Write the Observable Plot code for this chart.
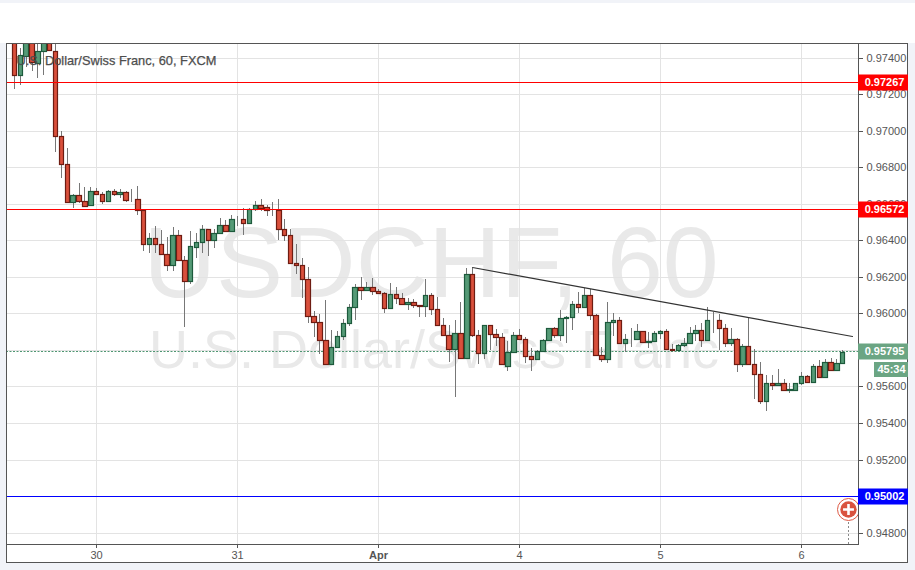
<!DOCTYPE html>
<html>
<head>
<meta charset="utf-8">
<script src="https://cdn.jsdelivr.net/npm/d3@7"></script>
<script src="https://cdn.jsdelivr.net/npm/@observablehq/plot@0.6"></script>
<style>
html,body{margin:0;padding:0;background:#f1f3f8;overflow:hidden;}
#top{position:absolute;left:0;top:3px;width:915px;height:40px;background:#fff;}
#card{position:absolute;left:6px;top:43px;width:902px;height:520px;background:#fff;border:1px solid #555;box-sizing:border-box;}
#chart{position:absolute;left:0;top:0;}
svg{background:transparent!important;}
</style>
</head>
<body>
<div id="top"></div><div id="card"></div><div id="chart"></div>
<script>
// Hourly USD/CHF bars, in units of 0.00001
const opens = [97520,97307,97409,97520,97371,97436,97520,97440,96970,96817,
96608,96646,96614,96592,96668,96652,96614,96672,96652,96667,
96619,96625,96564,96383,96411,96383,96328,96268,96432,96290,
96180,96365,96394,96460,96400,96443,96482,96454,96515,96515,
96498,96570,96592,96581,96564,96564,96460,96432,96279,96268,
96191,95988,95955,95856,95723,95818,95878,95950,96037,96147,
96131,96147,96125,96114,96032,96109,96087,96054,96065,96048,
96043,96103,96026,95939,95884,95807,95895,95758,96218,95884,
95785,95939,95889,95873,95714,95791,95884,95862,95769,95752,
95796,95856,95922,95884,95977,95983,96054,96038,96103,95994,
95774,95752,95955,95966,95840,95862,95860,95906,95846,95851,
95895,95906,95807,95802,95829,95840,95895,95911,95855,95966,
95966,95922,95840,95862,95725,95824,95725,95670,95522,95621,
95610,95621,95582,95582,95621,95659,95626,95714,95652,95736,
95692,95730];
const highs = [97560,97455,97560,97560,97520,97560,97540,97500,96998,96904,
96654,96714,96690,96694,96687,96663,96678,96681,96681,96672,
96681,96698,96564,96443,96478,96456,96416,96471,96456,96312,
96453,96443,96484,96465,96462,96520,96511,96539,96535,96575,
96575,96614,96625,96592,96610,96626,96517,96465,96379,96303,
96257,96012,95995,96072,95908,95902,95972,96054,96160,96202,
96171,96193,96133,96120,96165,96144,96111,96087,96081,96048,
96187,96114,96089,95977,95935,95966,96061,96251,96251,95908,
95939,95939,95917,95895,95851,95900,95917,95873,95813,95802,
95862,95922,95928,96017,95986,96067,96116,96142,96135,95999,
95818,96065,96001,95983,95886,95922,95944,95906,95900,95906,
95911,95913,95831,95835,95868,95928,95939,95950,96038,96008,
95999,95944,95922,95868,95830,95977,95807,95736,95665,95665,
95694,95639,95621,95621,95681,95665,95721,95745,95752,95758,
95749,95802];
const lows = [97230,97252,97349,97330,97288,97308,97444,96886,96743,96608,
96577,96604,96590,96592,96652,96597,96608,96645,96634,96608,
96608,96540,96343,96332,96332,96328,96230,96233,96290,95926,
96162,96305,96330,96314,96359,96443,96454,96449,96480,96431,
96498,96563,96563,96535,96535,96403,96398,96279,96215,96085,
95946,95871,95778,95725,95717,95814,95855,95931,95964,96074,
96131,96101,96114,96003,96027,96050,96054,96019,96030,95981,
95981,95992,95939,95884,95734,95544,95758,95758,95873,95723,
95752,95800,95822,95725,95684,95791,95862,95730,95686,95752,
95791,95856,95867,95847,95836,95909,96005,96038,95965,95771,
95734,95730,95877,95836,95789,95816,95855,95844,95809,95851,
95862,95807,95794,95798,95818,95840,95851,95816,95855,95895,
95798,95818,95822,95681,95708,95725,95529,95506,95465,95579,
95610,95582,95564,95582,95610,95626,95626,95654,95646,95692,
95687,95730];
const closes = [97307,97413,97520,97376,97436,97520,97444,96970,96817,96608,
96646,96614,96590,96668,96652,96614,96672,96652,96667,96619,
96623,96564,96383,96411,96383,96328,96268,96432,96290,96180,
96367,96394,96460,96400,96443,96482,96454,96515,96517,96498,
96570,96592,96577,96564,96566,96460,96432,96279,96268,96191,
95988,95955,95856,95725,95818,95878,95950,96037,96147,96131,
96145,96125,96114,96032,96109,96087,96054,96065,96048,96043,
96103,96026,95939,95884,95807,95895,95758,96218,95884,95785,
95939,95889,95873,95725,95791,95884,95862,95769,95752,95796,
95856,95922,95884,95977,95983,96054,96038,96103,95994,95774,
95752,95955,95966,95840,95862,95860,95906,95846,95851,95895,
95906,95807,95802,95829,95840,95895,95911,95855,95966,95964,
95922,95840,95862,95725,95824,95725,95670,95522,95621,95610,
95621,95582,95584,95621,95659,95626,95714,95654,95736,95692,
95730,95791];

const dayBars = [14,38,62,86,110,134];
const dayLabels = ["30","31","Apr","4","5","6"];
const priceTicks = [0.974,0.972,0.970,0.968,0.966,0.964,0.962,0.960,0.958,0.956,0.954,0.952,0.950,0.948];
const levels = [0.97267,0.96572,0.95002];
const levelColors = ["#ff0000","#ff0000","#0000ff"];
const lastPrice = 0.95795;
const countdown = "45:34";
const trendBars = [77.9,142.7];
const trendPrices = [0.96253,0.95877];
const eventBar = 142;
const eventPrice = 0.94931;

const xMin = -1.35, xMax = 143.68, yMin = 0.947374, yMax = 0.974811;
const labelEnd = xMax + 50/5.875;
const timerStart = xMax + 16/5.875;

const bars = opens.map((o,i)=>({i,o:o/1e5,h:highs[i]/1e5,l:lows[i]/1e5,c:closes[i]/1e5,up:closes[i]>=o}));
const levelRows = levels.map((p,k)=>({p,color:levelColors[k]}));
const trend = trendBars.map((b,k)=>({b,p:trendPrices[k]}));
const halfBody = 0.38;

const plot = Plot.plot({
  width:915,height:570,
  marginLeft:6,marginRight:57,marginTop:43,marginBottom:26,
  style:{background:"transparent",fontFamily:"'Liberation Sans',Arial,sans-serif"},
  x:{domain:[xMin,xMax],round:true,axis:null},
  y:{domain:[yMin,yMax],round:true,axis:null},
  marks:[
    Plot.text(["USDCHF, 60"],{frameAnchor:"top-left",dx:137,dy:253,fontSize:100.5,fill:"#e9e9e9",textAnchor:"start",lineAnchor:"bottom"}),
    Plot.text(["U.S. Dollar/Swiss Franc"],{frameAnchor:"top-left",dx:142.4,dy:324,fontSize:54,fill:"#e9e9e9",textAnchor:"start",lineAnchor:"bottom"}),
    Plot.gridX(dayBars,{stroke:"#e3e3e3",strokeOpacity:1}),
    Plot.gridY(priceTicks,{stroke:"#e3e3e3",strokeOpacity:1}),
    Plot.ruleY([lastPrice],{stroke:"#4f9672",strokeDasharray:"2,1.5",strokeWidth:1}),
    Plot.ruleX(bars,{x:"i",y1:"l",y2:"h",stroke:"#777",strokeWidth:1,clip:true}),
    Plot.rect(bars,{x1:d=>d.i-halfBody,x2:d=>d.i+halfBody,y1:"o",y2:"c",
      fill:d=>d.up?"#559a76":"#d9503c",stroke:d=>d.up?"#1d5a3c":"#6e1c12",strokeWidth:1.2,dx:0.5,dy:0.5,clip:true}),
    Plot.ruleY(levelRows,{y:"p",stroke:"color",strokeWidth:1}),
    Plot.line(trend,{x:"b",y:"p",stroke:"#333",strokeWidth:1.2,clip:true}),
    Plot.ruleX([eventBar],{y1:yMin,y2:eventPrice,stroke:"#888",strokeDasharray:"2,2"}),
    Plot.dot([0],{x:()=>eventBar,y:()=>eventPrice,r:11,fill:"#fff",stroke:"#de5a45",strokeWidth:1,clip:true}),
    Plot.dot([0],{x:()=>eventBar,y:()=>eventPrice,r:8.2,fill:"#d9533f",clip:true}),
    Plot.dot([0],{x:()=>eventBar,y:()=>eventPrice,r:3.6,symbol:"plus",stroke:"#fff",strokeWidth:2.6,fill:"none",clip:true}),
    Plot.text(["U.S. Dollar/Swiss Franc, 60, FXCM"],{frameAnchor:"top-left",dx:10,dy:17,fontSize:12.8,fill:"#4d4d4d",stroke:"#4d4d4d",strokeWidth:0.25,textAnchor:"start",lineAnchor:"middle"}),
    Plot.frame({stroke:"#555",strokeWidth:1}),
    Plot.axisY(priceTicks,{anchor:"right",tickSize:4,tickPadding:4,tickFormat:d3.format(".5f"),fontSize:11,color:"#555",label:null}),
    Plot.axisX(dayBars,{tickSize:4,tickPadding:3,tickFormat:(d)=>dayLabels[dayBars.indexOf(d)],fontSize:11,color:"#555",label:null}),
    Plot.ruleY(levelRows,{y:"p",x1:xMax,x2:labelEnd,stroke:"color",strokeWidth:16}),
    Plot.text(levelRows,{y:"p",x:()=>xMax,dx:26,text:d=>d.p.toFixed(5),fill:"#fff",fontWeight:"bold",fontSize:11}),
    Plot.ruleY([lastPrice],{x1:xMax,x2:labelEnd,stroke:"#6ba583",strokeWidth:16}),
    Plot.text([lastPrice],{y:d=>d,x:()=>xMax,dx:26,text:d=>d.toFixed(5),fill:"#fff",fontWeight:"bold",fontSize:11}),
    Plot.ruleY([lastPrice],{x1:timerStart,x2:labelEnd,dy:18,stroke:"#6ba583",strokeWidth:15}),
    Plot.text([countdown],{y:()=>lastPrice,x:()=>xMax,dx:33,dy:18,fill:"#fff",fontWeight:"bold",fontSize:11})
  ]
});
d3.select(plot).selectAll("text").filter(function(){return this.textContent==="Apr";}).attr("font-weight","bold");
document.getElementById("chart").appendChild(plot);
</script>
</body>
</html>
